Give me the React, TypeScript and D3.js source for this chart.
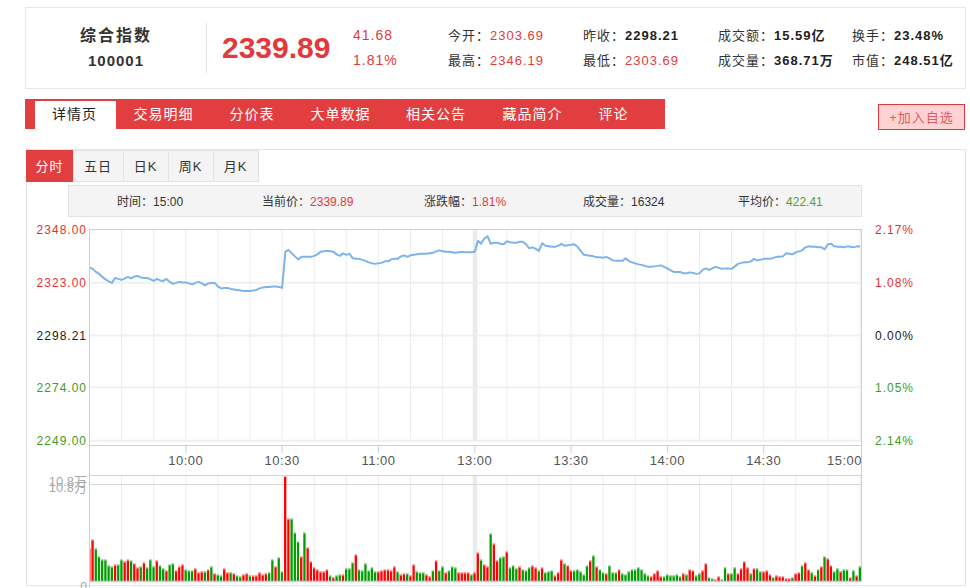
import * as d3 from 'd3';

// header quote
const stockName = '综合指数';
const stockCode = '100001';
const lastPrice = '2339.89';
const change = '41.68';
const changePct = '1.81%';
const quoteLabels1 = ['今开', '昨收', '成交额', '换手'];
const quoteValues1 = ['2303.69', '2298.21', '15.59亿', '23.48%'];
const quoteUp1 = [true, false, false, false];
const quoteLabels2 = ['最高', '最低', '成交量', '市值'];
const quoteValues2 = ['2346.19', '2303.69', '368.71万', '248.51亿'];
const quoteUp2 = [true, true, false, false];

const navTabs = ['详情页', '交易明细', '分价表', '大单数据', '相关公告', '藏品简介', '评论'];
const chartTabs = ['分时', '五日', '日K', '周K', '月K'];

const infoLabels = ['时间', '当前价', '涨跌幅', '成交量', '平均价'];
const infoValues = ['15:00', '2339.89', '1.81%', '16324', '422.41'];

const priceTicks = [2348.0, 2323.0, 2298.21, 2274.0, 2249.0];
const pctTicks = ['2.17%', '1.08%', '0.00%', '1.05%', '2.14%'];
const timeLabels = ['10:00', '10:30', '11:00', '13:00', '13:30', '14:00', '14:30', '15:00'];
const timeIndex = [30, 60, 90, 120, 150, 180, 210, 240];
const volMaxLabel = '10.8万';

// one point per minute, 9:30 .. 11:30 / 13:01 .. 15:00
const prices = [
  2330.17, 2329.47, 2328.06, 2327.12, 2325.71, 2324.54, 2323.60, 2322.90, 2325.24, 2324.77,
  2324.31, 2325.01, 2325.71, 2325.01, 2325.95, 2326.18, 2325.48, 2325.24, 2325.24, 2324.54,
  2323.84, 2324.77, 2324.07, 2323.84, 2324.77, 2323.37, 2322.43, 2322.90, 2323.37, 2323.13,
  2323.13, 2322.66, 2322.19, 2322.90, 2323.37, 2322.66, 2321.72, 2322.66, 2322.90, 2322.90,
  2321.26, 2320.32, 2320.55, 2320.55, 2320.08, 2319.85, 2319.61, 2319.38, 2319.14, 2319.14,
  2319.05, 2319.38, 2319.61, 2320.32, 2320.79, 2321.02, 2321.02, 2321.26, 2321.26, 2321.02,
  2320.55, 2337.44, 2338.38, 2336.74, 2335.33, 2333.92, 2335.10, 2335.10, 2335.10, 2335.10,
  2335.57, 2336.27, 2337.44, 2337.68, 2337.91, 2337.68, 2337.44, 2336.27, 2335.57, 2336.74,
  2336.04, 2336.50, 2334.39, 2334.16, 2334.16, 2333.69, 2333.22, 2332.52, 2332.05, 2331.81,
  2332.05, 2332.28, 2332.99, 2332.99, 2333.92, 2334.16, 2334.16, 2335.33, 2335.80, 2335.10,
  2335.80, 2336.04, 2336.27, 2336.50, 2336.50, 2336.50, 2336.74, 2336.97, 2337.68, 2338.15,
  2337.68, 2337.44, 2337.44, 2337.21, 2336.97, 2337.21, 2337.44, 2337.21, 2337.21, 2337.21,
  2337.44, 2342.60, 2341.20, 2343.78, 2344.72, 2341.20, 2341.67, 2341.67, 2341.20, 2340.96,
  2342.37, 2341.90, 2341.67, 2341.67, 2342.14, 2342.14, 2340.96, 2339.09, 2339.55, 2338.85,
  2337.91, 2341.43, 2340.26, 2340.02, 2339.79, 2339.79, 2340.26, 2341.20, 2340.26, 2340.49,
  2340.73, 2340.96, 2339.79, 2337.91, 2336.04, 2335.80, 2335.57, 2335.33, 2334.86, 2334.86,
  2334.63, 2335.10, 2334.39, 2333.45, 2333.22, 2333.22, 2333.22, 2334.39, 2333.22, 2332.52,
  2332.05, 2331.58, 2331.34, 2330.87, 2330.41, 2330.41, 2330.64, 2330.87, 2331.11, 2330.41,
  2329.70, 2328.76, 2328.06, 2328.06, 2328.06, 2327.36, 2327.36, 2327.82, 2327.59, 2327.12,
  2327.36, 2329.00, 2329.70, 2329.00, 2329.70, 2330.41, 2329.94, 2329.47, 2329.70, 2329.70,
  2329.47, 2330.64, 2331.81, 2332.28, 2332.52, 2332.52, 2332.99, 2334.16, 2333.45, 2333.69,
  2334.16, 2334.16, 2334.16, 2334.63, 2335.10, 2335.10, 2335.33, 2336.74, 2336.50, 2336.27,
  2337.21, 2337.68, 2338.15, 2339.55, 2340.02, 2339.79, 2339.79, 2339.55, 2339.55, 2338.62,
  2340.96, 2341.20, 2340.02, 2339.79, 2339.79, 2339.55, 2340.02, 2339.79, 2339.55, 2340.02,
  2339.89,
];

// volume per minute, 万
const volumes = [
  3.37,
  4.28, 3.37, 2.55, 2.24, 2.24, 1.63, 1.53, 1.73, 1.73, 2.24,
  2.04, 2.24, 2.14, 1.84, 1.43, 1.53, 1.94, 1.43, 2.24, 1.53,
  2.14, 1.63, 1.33, 1.12, 1.73, 1.84, 1.12, 1.53, 1.73, 1.22,
  1.12, 1.12, 1.33, 0.92, 1.02, 1.02, 1.22, 1.53, 0.82, 0.71,
  0.61, 1.33, 0.92, 0.92, 0.82, 0.61, 0.51, 0.71, 0.82, 0.61,
  0.61, 0.61, 0.92, 0.71, 0.82, 0.92, 2.24, 1.53, 2.45, 1.02,
  10.8, 6.43, 6.43, 5.0, 4.08, 2.55, 5.0, 3.47, 2.04, 1.43,
  1.22, 1.02, 1.02, 1.22, 0.61, 0.41, 0.61, 0.71, 0.71, 1.33,
  1.33, 1.94, 2.75, 1.22, 1.12, 1.84, 1.12, 1.43, 1.02, 1.02,
  1.12, 1.22, 1.22, 1.12, 1.53, 1.02, 0.71, 0.82, 0.82, 0.61,
  1.73, 1.02, 0.92, 0.92, 0.71, 0.51, 1.12, 2.14, 1.12, 1.53,
  0.92, 1.12, 1.53, 1.43, 0.92, 0.92, 0.92, 0.92, 0.71, 0.92,
  2.96, 2.24, 1.73, 1.53, 4.9, 3.88, 2.14, 2.45, 2.55, 3.06,
  1.43, 1.63, 1.33, 1.53, 1.22, 1.12, 1.43, 1.63, 1.43, 1.12,
  1.43, 0.92, 1.02, 1.12, 0.61, 0.92, 2.24, 1.84, 1.63, 1.12,
  1.12, 1.22, 1.02, 0.71, 1.63, 2.14, 2.65, 1.53, 1.22, 0.92,
  0.82, 1.63, 0.92, 0.92, 1.22, 0.82, 0.71, 1.02, 1.22, 1.22,
  1.43, 1.22, 0.82, 0.61, 0.51, 0.82, 1.12, 0.51, 0.51, 0.71,
  0.61, 0.61, 0.71, 0.51, 0.82, 0.71, 1.22, 1.12, 0.61, 0.82,
  1.12, 1.84, 0.41, 0.31, 0.2, 0.51, 0.2, 1.43, 0.82, 0.82,
  1.43, 0.82, 1.33, 2.04, 1.43, 0.82, 1.33, 1.33, 1.02, 1.02,
  1.12, 0.71, 0.41, 0.61, 0.51, 0.51, 0.31, 0.31, 0.41, 0.82,
  0.92, 1.63, 1.94, 1.22, 0.92, 0.61, 1.22, 1.53, 2.55, 2.35,
  1.63, 1.02, 1.33, 1.02, 1.22, 1.22, 0.41, 1.12, 0.61, 1.53,
];

// r = up bar, g = down bar
const volDir = (
  'r' +
  'rggggggrgg' + 'rrgrrgrggg' + 'rggrggrrrg' + 'ggrrrgrgrg' + 'grrgrggrrg' + 'rrrrrggrgg' +
  'rrgggrgrrr' + 'rrrrgrggrg' + 'ggrggggggr' + 'rrrrrgrrgr' + 'rgggrrgrgg' + 'rgggrrrrgr' +
  'rgrrgrrggr' + 'gggrgggrrg' + 'rgggrrrgrr' + 'gggggrgrgg' + 'rgggrggggg' + 'ggggrrrrgg' +
  'ggggrgrrgg' + 'rrggrrggrg' + 'grrrrgrggr' + 'rrgrrrrrgr' + 'rgrrgrgrgr' + 'rggrggrgrg'
).split('');

const RED = '#e4393c';
const AX_RED = '#e8312f';
const AX_GREEN = '#3e9b2a';
const AXIS = '#c6d0e2';
const GRID = '#ececf0';
const FONT = "'Liberation Sans', Arial, 'Noto Sans CJK SC', sans-serif";

export default function App() {
  const x = d3.scaleLinear().domain([0, 240]).range([89.5, 860]);
  const y = d3.scaleLinear().domain([2249, 2348]).range([440.7, 229.3]);
  const yv = d3.scaleLinear().domain([0, 10.8]).range([581.5, 476]);
  const line = d3.line<number>().x((_, i) => x(i)).y((d) => y(d));
  const tickColor = (v: number) => (v > 2298.21 ? AX_RED : v < 2298.21 ? AX_GREEN : '#222');

  const gridIdx = d3.range(10, 241, 10).filter((i) => i !== 120);
  const quoteX = [448, 583, 718, 852];
  const navCenters = [74.5, 163.5, 252, 340.5, 436, 532.5, 613.5];
  const tabEdges = [26, 73, 123, 168, 213, 258];
  const infoX = [117, 262, 424, 583, 738];
  const infoColors = ['#333', RED, RED, '#333', '#55a22b'];

  const quoteRow = (labels: string[], values: string[], up: boolean[], yy: number) =>
    labels.map((l, i) => (
      <text key={l} x={quoteX[i]} y={yy} fontSize={13} letterSpacing={1} fill="#333">
        {l}：
        <tspan fill={up[i] ? RED : '#222'} fontWeight={up[i] ? 'normal' : 'bold'}>
          {values[i]}
        </tspan>
      </text>
    ));

  return (
    <div style={{ position: 'absolute', left: 0, top: 0 }}>
      <svg width={970} height={588} style={{ display: 'block', fontFamily: FONT }}>
        <rect x={0} y={0} width={970} height={588} fill="#fff" />

        {/* header */}
        <rect x={25.5} y={7.5} width={940} height={81} fill="#fff" stroke="#e6e6e6" />
        <text x={116} y={41} textAnchor="middle" fontSize={16} fontWeight="bold" letterSpacing={2} fill="#333">
          {stockName}
        </text>
        <text x={116} y={66} textAnchor="middle" fontSize={15} fontWeight="bold" letterSpacing={1} fill="#333">
          {stockCode}
        </text>
        <line x1={206.5} x2={206.5} y1={23} y2={73} stroke="#e2e2e2" />
        <text x={222} y={58} fontSize={30} fontWeight="bold" fill={RED}>
          {lastPrice}
        </text>
        <text x={353} y={40} fontSize={14} letterSpacing={1} fill={RED}>
          {change}
        </text>
        <text x={353} y={65} fontSize={14} letterSpacing={1} fill={RED}>
          {changePct}
        </text>
        {quoteRow(quoteLabels1, quoteValues1, quoteUp1, 40)}
        {quoteRow(quoteLabels2, quoteValues2, quoteUp2, 65)}

        {/* nav bar */}
        <rect x={25} y={99} width={640} height={30} fill="#e23e3f" />
        <rect x={35} y={101} width={81} height={28} fill="#fff" />
        {navTabs.map((t, i) => (
          <text key={t} x={navCenters[i]} y={119} textAnchor="middle" fontSize={14} letterSpacing={1}
            fill={i === 0 ? '#222' : '#fff'}>
            {t}
          </text>
        ))}
        <rect x={878.5} y={104.5} width={86} height={25} fill="#ffd3d4" stroke="#e4393c" />
        <text x={921.5} y={122} textAnchor="middle" fontSize={13} letterSpacing={1} fill="#e25c5e">
          +加入自选
        </text>

        {/* chart panel */}
        <rect x={26.5} y={149.5} width={939} height={436} fill="#fff" stroke="#e5e5e5" />
        {chartTabs.map((t, i) => (
          <g key={t}>
            <rect x={tabEdges[i] + 0.5} y={150.5} width={tabEdges[i + 1] - tabEdges[i]} height={31}
              fill={i === 0 ? '#e23e3f' : '#f4f4f4'} stroke={i === 0 ? '#e23e3f' : '#e2e2e2'} />
            <text x={(tabEdges[i] + tabEdges[i + 1]) / 2} y={171} textAnchor="middle" fontSize={13}
              letterSpacing={1} fill={i === 0 ? '#fff' : '#333'}>
              {t}
            </text>
          </g>
        ))}

        <rect x={68.5} y={185.5} width={793} height={31} fill="#f4f4f4" stroke="#e2e2e2" />
        {infoLabels.map((l, i) => (
          <text key={l} x={infoX[i]} y={206} fontSize={12} fill="#333">
            {l}：<tspan fill={infoColors[i]}>{infoValues[i]}</tspan>
          </text>
        ))}

        {/* price grid */}
        {gridIdx.map((i) => (
          <line key={'gv' + i} x1={x(i)} x2={x(i)} y1={229.3} y2={440.7} stroke={GRID} />
        ))}
        {priceTicks.slice(1).map((v) => (
          <line key={'gh' + v} x1={89.5} x2={861.5} y1={y(v)} y2={y(v)} stroke="#f0f0f3" strokeWidth={2} />
        ))}
        <rect x={x(120) - 2} y={229.3} width={4.5} height={211.4} fill="#ebebeb" />
        <line x1={89.5} x2={861.5} y1={229.5} y2={229.5} stroke={AXIS} />

        <path d={line(prices) ?? ''} fill="none" stroke="#7db4ea" strokeWidth={2} strokeLinejoin="round" />

        {priceTicks.map((v, i) => (
          <g key={'pt' + v}>
            <text x={87} y={y(v) + 4.5} textAnchor="end" fontSize={12} letterSpacing={1} fill={tickColor(v)}>
              {v.toFixed(2)}
            </text>
            <text x={875} y={y(v) + 4.5} fontSize={12} letterSpacing={1} fill={tickColor(v)}>
              {pctTicks[i]}
            </text>
          </g>
        ))}

        {/* time axis */}
        <line x1={89.5} x2={861.5} y1={445.5} y2={445.5} stroke={AXIS} />
        {timeIndex.map((ti, i) => (
          <g key={timeLabels[i]}>
            {ti < 240 && <line x1={x(ti)} x2={x(ti)} y1={445} y2={453} stroke={AXIS} />}
            <text x={ti < 240 ? x(ti) : 862} y={465} textAnchor={ti < 240 ? 'middle' : 'end'} fontSize={13}
              letterSpacing={0.5} fill="#555">
              {timeLabels[i]}
            </text>
          </g>
        ))}
        <line x1={89.5} x2={861.5} y1={475.5} y2={475.5} stroke="#d3d3d3" />

        {/* volume */}
        {gridIdx.map((i) => (
          <line key={'vv' + i} x1={x(i)} x2={x(i)} y1={476} y2={581} stroke={GRID} />
        ))}
        <rect x={x(120) - 2} y={476} width={4.5} height={105.5} fill="#ebebeb" />
        <line x1={89.5} x2={861.5} y1={484.5} y2={484.5} stroke="#d6d6d6" />
        <clipPath id="volClip">
          <rect x={90} y={470} width={772} height={112} />
        </clipPath>
        <g clipPath="url(#volClip)">
          {volumes.map((v, i) => {
            const up = volDir[i] === 'r';
            const top = yv(v);
            return (
              <g key={'b' + i}>
                <rect x={x(i) - 1.3} y={top} width={2.3} height={581.5 - top} fill={up ? '#ff0000' : '#009c00'} />
                <rect x={x(i) - 1.3} y={top} width={2.3} height={1} fill={up ? '#ffb0b0' : '#a8dca8'} />
              </g>
            );
          })}
        </g>
        <line x1={89.5} x2={861.5} y1={581.5} y2={581.5} stroke={AXIS} strokeWidth={1.5} />
        <text x={87} y={486} textAnchor="end" fontSize={13} fill="#a8a8a8">{volMaxLabel}</text>
        <text x={87} y={492} textAnchor="end" fontSize={13} fill="#a8a8a8">{volMaxLabel}</text>
        <text x={87} y={591} textAnchor="end" fontSize={12} fill="#a8a8a8">0</text>

        <line x1={89.5} x2={89.5} y1={229} y2={588} stroke={AXIS} />
        <line x1={861.5} x2={861.5} y1={229} y2={582} stroke={AXIS} />
      </svg>
    </div>
  );
}
